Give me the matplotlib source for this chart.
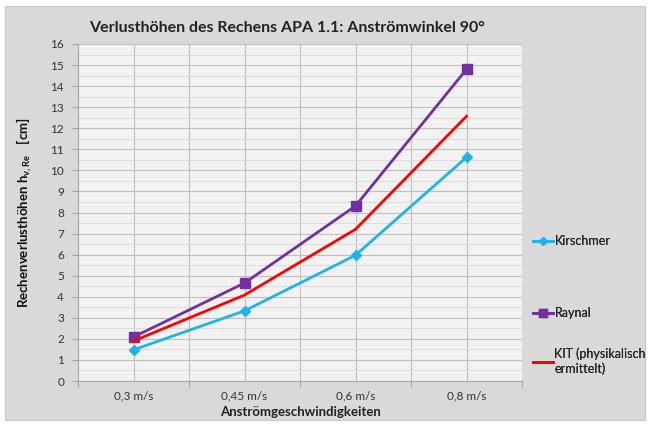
import numpy as np
import matplotlib.pyplot as plt
from matplotlib.patches import Rectangle
from matplotlib.ticker import MultipleLocator, NullFormatter, FixedLocator, FixedFormatter

plt.rcParams['font.family'] = ['Lato', 'DejaVu Sans']
plt.rcParams['mathtext.fontset'] = 'custom'
plt.rcParams['mathtext.rm'] = 'Lato:bold'
plt.rcParams['mathtext.it'] = 'Lato:bold'
plt.rcParams['mathtext.bf'] = 'Lato:bold'

# === Data ===
categories = ["0,3 m/s", "0,45 m/s", "0,6 m/s", "0,8 m/s"]
kirschmer = [1.48, 3.33, 5.97, 10.62]
raynal = [2.09, 4.65, 8.31, 14.80]
kit = [1.90, 4.08, 7.20, 12.57]

x = np.arange(len(categories)) + 0.5

fig = plt.figure(figsize=(6.51, 4.26), dpi=100)
fig.patch.set_facecolor("white")
fig.patches.append(Rectangle((5 / 651, 6 / 426), 640 / 651, 414 / 426,
                             transform=fig.transFigure, facecolor="#d9d9d9",
                             edgecolor="#c8c8c8", lw=0.8, zorder=-10))

ax = fig.add_axes([78 / 651, 1 - 381 / 426, 444 / 651, 337 / 426])
ax.set_facecolor("#f2f2f2")

ax.plot(x, kirschmer, color="#1eb4ea", lw=2.0, marker="D", ms=5, label="Kirschmer", zorder=3)
ax.plot(x, raynal, color="#7030a0", lw=2.0, marker="s", ms=6.5, label="Raynal", zorder=3)
ax.plot(x, kit, color="#ff0000", lw=2.0, label="KIT (physikalisch\nermittelt)", zorder=3)

ax.set_xlim(0, len(categories))
ax.set_ylim(0, 16)
ax.yaxis.set_major_locator(MultipleLocator(1))
ax.yaxis.set_minor_locator(MultipleLocator(0.5))
ax.xaxis.set_major_locator(MultipleLocator(1))
ax.xaxis.set_major_formatter(NullFormatter())
ax.xaxis.set_minor_locator(FixedLocator(x))
ax.xaxis.set_minor_formatter(FixedFormatter(categories))

ax.grid(True, which="major", color="#bfbfbf", lw=0.8, zorder=0)
ax.grid(True, which="minor", axis="y", color="#dcdcdc", lw=0.7, zorder=0)
ax.grid(True, which="minor", axis="x", color="#bfbfbf", lw=0.8, zorder=0)
ax.set_axisbelow(True)

for s in ["top", "right"]:
    ax.spines[s].set_visible(False)
for s in ["left", "bottom"]:
    ax.spines[s].set_color("#a6a6a6")
    ax.spines[s].set_linewidth(0.8)

ax.tick_params(axis="y", which="major", length=4, color="#a6a6a6", labelsize=8.5,
               labelcolor="#333333", pad=6)
ax.tick_params(axis="y", which="minor", length=0)
ax.tick_params(axis="x", which="major", length=4, color="#a6a6a6")
ax.tick_params(axis="x", which="minor", length=0, labelsize=8.5, labelcolor="#333333", pad=7)

ax.set_title("Verlusthöhen des Rechens APA 1.1: Anströmwinkel 90°", fontsize=11.5,
             fontweight="bold", color="#222222", pad=9, x=0.47)
ax.set_xlabel("Anströmgeschwindigkeiten", fontsize=9.5, fontweight="bold", color="#222222", labelpad=3)
ax.set_ylabel(r"$\mathbf{Rechenverlusthöhen\ h_{v,Re}\ \ \ [cm]}$", fontsize=9.5,
              color="#111111", labelpad=12)

handles, labels = ax.get_legend_handles_labels()
leg_y = [241, 313, 361]
for h, l, yy in zip(handles, labels, leg_y):
    lg = fig.legend([h], [l], loc="center left", bbox_to_anchor=(522 / 651, 1 - yy / 426),
                    frameon=False, fontsize=9, handlelength=1.6, handletextpad=0.1,
                    markerscale=0.8, labelcolor="#222222")
    fig.add_artist(lg)

fig.savefig("out.png", dpi=100, facecolor=fig.get_facecolor())
